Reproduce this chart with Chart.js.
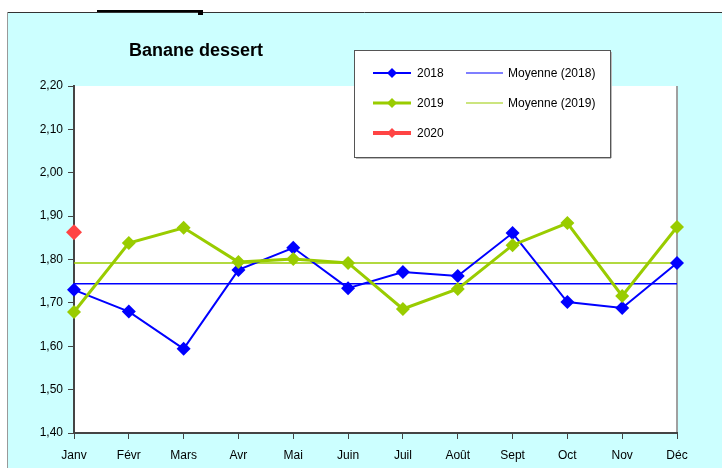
<!DOCTYPE html>
<html>
<head>
<meta charset="utf-8">
<script src="https://cdn.jsdelivr.net/npm/chart.js@4"></script>
<style>
  html, body { margin: 0; padding: 0; background: #ffffff; }
  #wrap { width: 722px; height: 468px; }
</style>
</head>
<body>
<div id="wrap"><canvas id="myChart" width="722" height="468"></canvas></div>
<script>
var months = ["Janv", "Févr", "Mars", "Avr", "Mai", "Juin", "Juil", "Août", "Sept", "Oct", "Nov", "Déc"];
var prix2018 = [1.73, 1.68, 1.594, 1.776, 1.827, 1.734, 1.771, 1.762, 1.861, 1.702, 1.688, 1.792];
var prix2019 = [1.679, 1.838, 1.873, 1.794, 1.801, 1.792, 1.686, 1.732, 1.833, 1.884, 1.716, 1.875];
var prix2020 = [1.863, null, null, null, null, null, null, null, null, null, null, null];
var moyenne2018 = 1.744;
var moyenne2019 = 1.792;
var yTicks = [1.40, 1.50, 1.60, 1.70, 1.80, 1.90, 2.00, 2.10, 2.20];

var blue = "#0000FF";
var green = "#99CC00";
var red = "#FF4444";
var fontName = "'Liberation Sans', Arial, sans-serif";

// cadre cyan, titre et legende dessinés à la main
var decor = {
  id: "decor",
  beforeDraw: function (chart) {
    var ctx = chart.ctx;
    var a = chart.chartArea;
    ctx.save();
    ctx.fillStyle = "#ffffff";
    ctx.fillRect(0, 0, chart.width, chart.height);
    ctx.fillStyle = "#CCFFFF";
    ctx.fillRect(7, 12, chart.width - 7, chart.height - 12);
    ctx.strokeStyle = "#333333";
    ctx.lineWidth = 1;
    ctx.beginPath();
    ctx.moveTo(7, 12.5);
    ctx.lineTo(chart.width, 12.5);
    ctx.stroke();
    ctx.strokeStyle = "#999999";
    ctx.beginPath();
    ctx.moveTo(7.5, 12);
    ctx.lineTo(7.5, chart.height);
    ctx.stroke();
    ctx.fillStyle = "#000000";
    ctx.fillRect(97, 10, 104, 2);
    ctx.fillRect(198, 10, 5, 5);
    // zone de tracé
    ctx.fillStyle = "#ffffff";
    ctx.fillRect(a.left, a.top, a.right - a.left, a.bottom - a.top);
    ctx.strokeStyle = "#a0a0a0";
    ctx.lineWidth = 2;
    ctx.beginPath();
    ctx.moveTo(a.right, a.top);
    ctx.lineTo(a.right, a.bottom);
    ctx.stroke();
    ctx.restore();
  },
  afterDraw: function (chart) {
    var ctx = chart.ctx;
    ctx.save();
    ctx.fillStyle = "#000000";
    ctx.font = "bold 18px " + fontName;
    ctx.textAlign = "center";
    ctx.textBaseline = "middle";
    ctx.fillText("Banane dessert", 196, 51);

    // legende
    ctx.fillStyle = "#ffffff";
    ctx.fillRect(354, 50, 256, 107);
    ctx.strokeStyle = "#555555";
    ctx.lineWidth = 1;
    ctx.strokeRect(354.5, 50.5, 256, 107);
    ctx.strokeStyle = "#bbbbbb";
    ctx.beginPath();
    ctx.moveTo(356, 158.5); ctx.lineTo(611, 158.5);
    ctx.moveTo(611.5, 52); ctx.lineTo(611.5, 158);
    ctx.stroke();

    var rows = [
      { label: "2018", color: blue, width: 2, y: 73 },
      { label: "2019", color: green, width: 3, y: 103 },
      { label: "2020", color: red, width: 4, y: 133 }
    ];
    ctx.font = "12px " + fontName;
    ctx.textAlign = "left";
    rows.forEach(function (r) {
      ctx.strokeStyle = r.color;
      ctx.lineWidth = r.width;
      ctx.beginPath();
      ctx.moveTo(373, r.y);
      ctx.lineTo(411, r.y);
      ctx.stroke();
      ctx.fillStyle = r.color;
      ctx.beginPath();
      ctx.moveTo(392, r.y - 5);
      ctx.lineTo(397, r.y);
      ctx.lineTo(392, r.y + 5);
      ctx.lineTo(387, r.y);
      ctx.closePath();
      ctx.fill();
      ctx.fillStyle = "#000000";
      ctx.fillText(r.label, 417, r.y + 1);
    });
    var means = [
      { label: "Moyenne (2018)", color: blue, y: 73 },
      { label: "Moyenne (2019)", color: green, y: 103 }
    ];
    means.forEach(function (m) {
      ctx.strokeStyle = m.color;
      ctx.lineWidth = 1.2;
      ctx.beginPath();
      ctx.moveTo(466, m.y);
      ctx.lineTo(503, m.y);
      ctx.stroke();
      ctx.fillStyle = "#000000";
      ctx.fillText(m.label, 508, m.y + 1);
    });
    ctx.restore();
  }
};

new Chart("myChart", {
  type: "line",
  data: {
    labels: months,
    datasets: [
      {
        label: "Moyenne (2018)",
        data: months.map(function () { return moyenne2018; }),
        borderColor: blue,
        borderWidth: 1.5,
        pointRadius: 0,
        order: 5
      },
      {
        label: "Moyenne (2019)",
        data: months.map(function () { return moyenne2019; }),
        borderColor: green,
        borderWidth: 1.5,
        pointRadius: 0,
        order: 4
      },
      {
        label: "2018",
        data: prix2018,
        borderColor: blue,
        backgroundColor: blue,
        borderWidth: 2,
        pointStyle: "rectRot",
        pointRadius: 7,
        pointBorderWidth: 0,
        order: 3
      },
      {
        label: "2019",
        data: prix2019,
        borderColor: green,
        backgroundColor: green,
        borderWidth: 3,
        pointStyle: "rectRot",
        pointRadius: 7,
        pointBorderWidth: 0,
        order: 2
      },
      {
        label: "2020",
        data: prix2020,
        borderColor: red,
        backgroundColor: red,
        borderWidth: 3,
        pointStyle: "rectRot",
        pointRadius: 8,
        pointBorderWidth: 0,
        order: 1
      }
    ]
  },
  options: {
    responsive: false,
    animation: false,
    layout: { padding: { left: 0, right: 45, top: 86, bottom: 0 } },
    plugins: {
      legend: { display: false },
      title: { display: false },
      tooltip: { enabled: false }
    },
    scales: {
      x: {
        offset: false,
        grid: { display: true, drawOnChartArea: false, drawTicks: true, tickLength: 6, color: "#444444" },
        border: { color: "#444444", width: 2 },
        ticks: { color: "#000000", font: { family: fontName, size: 12 }, padding: 9, maxRotation: 0, autoSkip: false },
        afterFit: function (scale) { scale.height = 35; }
      },
      y: {
        min: 1.40,
        max: 2.20,
        afterBuildTicks: function (scale) {
          scale.ticks = yTicks.map(function (v) { return { value: v }; });
        },
        grid: { display: true, drawOnChartArea: false, drawTicks: true, tickLength: 6, color: "#444444" },
        border: { color: "#444444", width: 2 },
        ticks: {
          color: "#000000",
          font: { family: fontName, size: 12 },
          padding: 5,
          callback: function (v) { return v.toFixed(2).replace(".", ","); }
        },
        afterFit: function (scale) { scale.width = 74; }
      }
    }
  },
  plugins: [decor]
});
</script>
</body>
</html>
